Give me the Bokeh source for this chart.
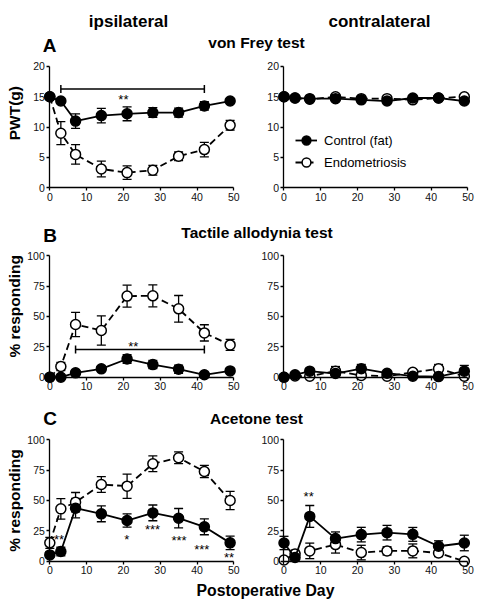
from bokeh.plotting import figure
from bokeh.models import (Range1d, FixedTicker, Whisker, TeeHead, ColumnDataSource,
                          Label, Legend, LegendItem)
from bokeh.layouts import column, row
from bokeh.embed import file_html
from bokeh.resources import INLINE
from bokeh.core.properties import value

FONT = "Liberation Sans"

# ---------------- data ----------------
days = [0, 3, 7, 14, 21, 28, 35, 42, 49]
x_ticks = [0, 10, 20, 30, 40, 50]
pwt_ticks = [0, 5, 10, 15, 20]
pct_ticks = [0, 25, 50, 75, 100]

# A: von Frey test, PWT (g)
a_ipsi_ctrl = [15.0, 14.3, 11.0, 11.9, 12.2, 12.4, 12.4, 13.5, 14.3]
a_ipsi_ctrl_err = [0.0, 0.0, 1.2, 1.2, 1.15, 0.8, 0.75, 0.7, 0.0]
a_ipsi_endo = [15.0, 9.0, 5.5, 3.1, 2.5, 2.9, 5.2, 6.3, 10.3]
a_ipsi_endo_err = [0.0, 1.9, 1.6, 1.3, 1.1, 0.8, 0.7, 1.2, 0.8]
a_contra_ctrl = [15.0, 14.8, 14.7, 14.7, 14.5, 14.3, 14.8, 14.8, 14.3]
a_contra_ctrl_err = [0.0, 0.2, 0.2, 0.2, 0.2, 0.2, 0.2, 0.2, 0.2]
a_contra_endo = [15.0, 14.8, 14.6, 15.0, 14.7, 14.7, 14.5, 14.8, 15.0]
a_contra_endo_err = [0.0, 0.2, 0.2, 0.2, 0.2, 0.2, 0.2, 0.2, 0.0]

# B: tactile allodynia test, % responding
b_ipsi_ctrl = [0.0, 0.0, 3.6, 6.9, 15.0, 10.4, 6.6, 2.0, 5.2]
b_ipsi_ctrl_err = [0.0, 0.0, 1.5, 2.0, 3.5, 3.4, 3.4, 1.5, 1.5]
b_ipsi_endo = [0.0, 8.8, 43.4, 38.5, 66.8, 67.0, 56.3, 36.5, 26.6]
b_ipsi_endo_err = [0.0, 3.4, 10.0, 12.0, 9.0, 9.0, 11.0, 6.7, 4.5]
b_contra_ctrl = [0.0, 2.0, 5.0, 3.0, 7.0, 3.3, 0.8, 0.5, 5.0]
b_contra_ctrl_err = [0.0, 0.5, 1.0, 1.5, 3.5, 1.0, 0.0, 0.0, 4.7]
b_contra_endo = [0.0, 1.0, 0.8, 5.0, 1.5, 0.8, 4.0, 7.0, 0.8]
b_contra_endo_err = [0.0, 0.5, 0.0, 3.8, 1.0, 0.5, 2.0, 3.5, 0.0]

# C: acetone test, % responding
c_ipsi_ctrl = [5.2, 8.0, 43.7, 39.0, 33.5, 39.8, 35.4, 28.3, 15.1]
c_ipsi_ctrl_err = [2.0, 3.5, 8.0, 6.5, 5.5, 6.5, 8.0, 6.5, 5.5]
c_ipsi_endo = [15.1, 43.1, 48.6, 63.2, 61.8, 80.2, 85.2, 73.9, 50.0]
c_ipsi_endo_err = [4.5, 8.5, 8.0, 6.5, 10.0, 6.5, 4.8, 5.0, 7.5]
c_contra_ctrl = [15.0, 3.0, 36.9, 18.6, 21.9, 23.5, 22.1, 12.3, 15.0]
c_contra_ctrl_err = [5.5, 3.0, 9.0, 5.5, 6.0, 6.0, 5.7, 4.5, 6.4]
c_contra_endo = [1.0, 6.0, 8.5, 13.7, 7.1, 8.5, 8.5, 6.8, 0.0]
c_contra_endo_err = [0.0, 3.0, 6.4, 7.0, 6.0, 3.4, 5.7, 3.0, 0.0]

# significance bars (x start, x end, y) and star labels
a_sig_bar = [3, 42, 16.3]
b_sig_bar = [7, 42, 22.9]
a_stars_x, a_stars_y, a_stars_txt = [20.0], [15.0], ["**"]
b_stars_x, b_stars_y, b_stars_txt = [22.7], [27.6], ["**"]
c_ipsi_stars_x = [2.5, 20.9, 27.9, 35.1, 41.3, 48.7]
c_ipsi_stars_y = [20.5, 20.5, 28.7, 19.7, 12.3, 5.5]
c_ipsi_stars_txt = ["**", "*", "***", "***", "***", "**"]
c_contra_stars_x, c_contra_stars_y, c_contra_stars_txt = [6.7], [55.5], ["**"]

legend_labels = ["Control (fat)", "Endometriosis"]


# ---------------- helpers ----------------
def style_axes(p, yticks):
    xa = p.xaxis[0]
    ya = p.yaxis[0]
    xa.ticker = FixedTicker(ticks=x_ticks)
    ya.ticker = FixedTicker(ticks=yticks)
    xa.fixed_location = 0
    ya.fixed_location = 0
    xa.bounds = (x_ticks[0], x_ticks[-1])
    ya.bounds = (yticks[0], yticks[-1])
    for ax in (xa, ya):
        ax.axis_line_color = "black"
        ax.axis_line_width = 1.3
        ax.major_tick_line_color = "black"
        ax.major_tick_line_width = 1.3
        ax.major_tick_in = 0
        ax.major_tick_out = 3
        ax.minor_tick_line_color = None
        ax.major_label_text_font = FONT
        ax.major_label_text_font_size = "10.5px"
        ax.major_label_text_color = "#111111"
        ax.major_label_standoff = 2


def add_errors(p, vals, errs):
    src = ColumnDataSource(dict(x=days,
                                lo=[v - e for v, e in zip(vals, errs)],
                                hi=[v + e for v, e in zip(vals, errs)]))
    w = Whisker(base="x", lower="lo", upper="hi", source=src, level="underlay",
                line_color="black", line_width=1.3,
                lower_head=TeeHead(size=9, line_color="black", line_width=1.3),
                upper_head=TeeHead(size=9, line_color="black", line_width=1.3))
    p.add_layout(w)


# frame == whole figure; ranges chosen so axis ticks land where the reference has them
def make_panel(side, height, yr, yticks, ctrl, ctrl_err, endo, endo_err):
    if side == "left":
        width, xr = 240, (-13.40, 51.82)
    else:
        width, xr = 236, (-11.82, 52.31)
    p = figure(width=width, height=height, x_range=Range1d(*xr), y_range=Range1d(*yr),
               min_border=0, output_backend="svg", toolbar_location=None, title=None)
    p.outline_line_color = None
    p.xgrid.visible = False
    p.ygrid.visible = False
    style_axes(p, yticks)
    add_errors(p, endo, endo_err)
    add_errors(p, ctrl, ctrl_err)
    le = p.line(days, endo, line_color="black", line_width=1.8, line_dash="7 4")
    se = p.scatter(days, endo, size=10, marker="circle", fill_color="white",
                   line_color="black", line_width=1.5)
    lc = p.line(days, ctrl, line_color="black", line_width=1.8)
    sc = p.scatter(days, ctrl, size=10, marker="circle", fill_color="black",
                   line_color="black", line_width=1.5)
    return p, (lc, sc), (le, se)


def add_sig_bar(p, bar):
    src = ColumnDataSource(dict(y=[bar[2]], x0=[bar[0]], x1=[bar[1]]))
    p.add_layout(Whisker(base="y", lower="x0", upper="x1", dimension="width", source=src,
                         line_color="black", line_width=1.5,
                         lower_head=TeeHead(size=8, line_color="black", line_width=1.5),
                         upper_head=TeeHead(size=8, line_color="black", line_width=1.5)))


def add_stars(p, xs, ys, txt):
    p.text(x=xs, y=ys, text=txt, text_font=value(FONT), text_font_size="13px",
           text_align="center", text_baseline="middle", y_offset=3, text_color="black")


def add_ylabel(p, text, y):
    p.add_layout(Label(x=-9.5, y=y, text=text, angle=1.5708,
                       text_font=FONT, text_font_style="bold", text_font_size="15.5px",
                       text_align="center", text_baseline="middle", text_color="black"))


def title_fig(top, height, labels):
    p = figure(width=476, height=height, x_range=Range1d(0, 476), y_range=Range1d(top + height, top),
               x_axis_type=None, y_axis_type=None, output_backend="svg", toolbar_location=None,
               min_border=0, title=None)
    p.outline_line_color = None
    for (x, y, txt, size) in labels:
        p.add_layout(Label(x=x, y=y, text=txt, text_font=FONT, text_font_style="bold",
                           text_font_size=size, text_align="center", text_baseline="alphabetic",
                           text_color="black"))
    return p


# ---------------- build ----------------
tA = title_fig(0, 55, [(128, 21, "ipsilateral", "17px"), (379, 21, "contralateral", "17px"),
                       (49, 45, "A", "19px"), (256, 41.7, "von Frey test", "15.5px")])

pA1, _, _ = make_panel("left", 152, (-3.25, 21.81), pwt_ticks,
                       a_ipsi_ctrl, a_ipsi_ctrl_err, a_ipsi_endo, a_ipsi_endo_err)
add_sig_bar(pA1, a_sig_bar)
add_stars(pA1, a_stars_x, a_stars_y, a_stars_txt)
add_ylabel(pA1, "PWT(g)", 12.3)

pA2, rc, re = make_panel("right", 152, (-3.25, 21.81), pwt_ticks,
                         a_contra_ctrl, a_contra_ctrl_err, a_contra_endo, a_contra_endo_err)
legend = Legend(items=[LegendItem(label=legend_labels[0], renderers=list(rc)),
                       LegendItem(label=legend_labels[1], renderers=list(re))],
                location=(55, 34), orientation="vertical", padding=0, margin=0, spacing=0,
                glyph_width=22, glyph_height=22, label_height=22, label_standoff=7,
                label_text_font=FONT, label_text_font_size="13px", label_text_color="black",
                border_line_color=None, background_fill_alpha=0)
pA2.add_layout(legend)

tB = title_fig(207, 38, [(49.5, 235, "B", "19px"), (256.5, 232, "Tactile allodynia test", "15.5px")])

pB1, _, _ = make_panel("left", 152, (-16.72, 108.48), pct_ticks,
                       b_ipsi_ctrl, b_ipsi_ctrl_err, b_ipsi_endo, b_ipsi_endo_err)
add_sig_bar(pB1, b_sig_bar)
add_stars(pB1, b_stars_x, b_stars_y, b_stars_txt)
add_ylabel(pB1, "% responding", 58.4)
pB2, _, _ = make_panel("right", 152, (-16.72, 108.48), pct_ticks,
                       b_contra_ctrl, b_contra_ctrl_err, b_contra_endo, b_contra_endo_err)

tC = title_fig(397, 32, [(49.5, 418, "C", "19px"), (256, 417.5, "Acetone test", "15.5px")])

pC1, _, _ = make_panel("left", 149, (-14.25, 108.48), pct_ticks,
                       c_ipsi_ctrl, c_ipsi_ctrl_err, c_ipsi_endo, c_ipsi_endo_err)
add_stars(pC1, c_ipsi_stars_x, c_ipsi_stars_y, c_ipsi_stars_txt)
add_ylabel(pC1, "% responding", 50.0)
pC2, _, _ = make_panel("right", 149, (-14.25, 108.48), pct_ticks,
                       c_contra_ctrl, c_contra_ctrl_err, c_contra_endo, c_contra_endo_err)
add_stars(pC2, c_contra_stars_x, c_contra_stars_y, c_contra_stars_txt)

tD = title_fig(578, 22, [(265, 590, "Postoperative Day", "15.8px")])

layout = column(tA, row(pA1, pA2), tB, row(pB1, pB2), tC, row(pC1, pC2), tD)

with open("out.html", "w") as f:
    f.write(file_html(layout, INLINE))
